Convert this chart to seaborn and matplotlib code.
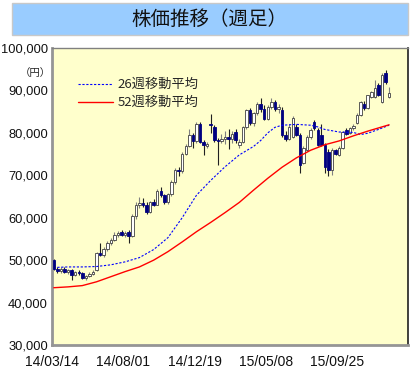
import numpy as np
import pandas as pd
import seaborn as sns
from matplotlib import pyplot as plt
from matplotlib.patches import Rectangle
from matplotlib.ticker import StrMethodFormatter

sns.set_style('white')
plt.rcParams['font.family'] = ['Noto Sans CJK JP', 'DejaVu Sans']

# weekly candles (yen)
opens = [50000, 47900, 47400, 48000, 47200, 47700, 46600, 47100, 46900, 45700,
         46200, 46800, 47600, 51800, 51200, 52600, 54000, 54800, 56000, 56600,
         56000, 56600, 55600, 60300, 62900, 63500, 63000, 61400, 63600, 63100,
         66300, 65300, 63700, 65500, 68400, 71300, 70900, 75100, 77000, 79400,
         78000, 82200, 77900, 76900, 82200, 81400, 78200, 78000, 78600, 79100,
         78600, 80200, 77200, 77900, 81300, 85300, 82400, 84600, 86900, 85600,
         83300, 86100, 87300, 85700, 85400, 79500, 78500, 79000, 81400, 79500,
         73000, 76000, 79000, 82500, 80700, 79500, 77100, 75600, 71200, 76000,
         74800, 76400, 80700, 80000, 81100, 82300, 84200, 86900, 85900, 88500,
         88500, 91300, 87300, 94100, 88500]
highs = [50300, 48500, 48300, 48400, 48000, 47900, 47500, 47600, 47100, 46400,
         47100, 47600, 52000, 54000, 53200, 54500, 55200, 56600, 56800, 57000,
         56800, 57000, 60800, 63600, 65000, 64600, 63700, 63900, 64300, 66700,
         67300, 65600, 65800, 68800, 71800, 71900, 75500, 77400, 80800, 79900,
         82600, 82500, 78400, 77800, 84500, 81800, 78900, 79800, 80500, 80800,
         80500, 80900, 78600, 81700, 85700, 85900, 85000, 87300, 88100, 86500,
         86600, 88200, 87800, 86700, 86000, 80500, 82000, 84000, 82200, 80000,
         77000, 79500, 81200, 83000, 81200, 82000, 77600, 76200, 76400, 76300,
         76800, 80500, 81200, 81400, 82000, 84600, 87600, 87400, 89000, 89900,
         92400, 91700, 94100, 94700, 90800]
lows = [47600, 47000, 46900, 46900, 46800, 45300, 46200, 46400, 45500, 45400,
        46000, 46500, 47400, 51000, 50700, 52200, 53500, 54500, 55400, 55800,
        55500, 54000, 55400, 59700, 62400, 62600, 60900, 61200, 62800, 62900,
        64900, 63300, 63300, 65200, 68000, 69800, 70600, 74700, 76600, 76500,
        77700, 77600, 74800, 76500, 80000, 77800, 72400, 77600, 77400, 76300,
        77600, 77600, 76400, 77500, 81000, 81900, 81600, 84200, 85000, 83000,
        83000, 85700, 85200, 84600, 79000, 78000, 78200, 78700, 79200, 70500,
        72600, 75700, 78600, 80700, 76800, 76800, 70500, 69800, 70000, 74700,
        74500, 76100, 79500, 79800, 80600, 82000, 84000, 85500, 85600, 88200,
        88200, 88600, 87000, 91500, 88300]
closes = [47900, 47400, 48000, 47200, 47700, 46600, 47100, 46900, 45700, 46200,
          46800, 47300, 51700, 51200, 52600, 54000, 54800, 56000, 56400, 56000,
          56500, 55800, 60300, 62900, 63500, 63000, 61400, 63600, 63100, 66300,
          65300, 63700, 65500, 68400, 71300, 70900, 75100, 77000, 79400, 78000,
          82200, 77900, 77200, 77300, 81900, 78200, 78000, 78600, 79100, 78600,
          79800, 78200, 77900, 81300, 85300, 82400, 84600, 86900, 85600, 83300,
          86100, 87300, 85700, 86200, 79500, 78600, 81400, 83500, 79500, 72400,
          76500, 79000, 80700, 81100, 77100, 77200, 72000, 71200, 76000, 75100,
          76400, 80200, 79700, 81100, 81700, 84200, 87300, 85900, 88900, 89600,
          90600, 88900, 93600, 92000, 89400]

# moving averages
ma52_weeks = [0, 4, 8, 12, 16, 20, 24, 28, 32, 36, 40, 44, 48, 52, 56, 60,
              64, 68, 72, 76, 80, 84, 88, 92, 94]
ma52 = [43500, 43700, 44000, 44900, 46100, 47300, 48400, 50000, 52000, 54300,
        56700, 58900, 61200, 63600, 66500, 69300, 71900, 74100, 75900, 77200,
        78100, 79300, 80400, 81400, 81900]
ma26_weeks = [1, 4, 8, 12, 16, 20, 24, 28, 32, 36, 40, 44, 48, 52, 56, 58,
              60, 62, 64, 68, 72, 74, 76, 80, 84, 86, 88, 91, 94]
ma26 = [48300, 48400, 48400, 48500, 48900, 49600, 50600, 52500, 55300, 60000,
        65300, 68800, 72000, 74800, 76800, 78200, 80000, 81300, 81800, 82000,
        81800, 81400, 80800, 80200, 80100, 79600, 79900, 80800, 81800]

tick_labels = ['14/03/14', '14/08/01', '14/12/19', '15/05/08', '15/09/25']

o = np.array(opens)
h = np.array(highs)
l = np.array(lows)
c = np.array(closes)
weeks = np.arange(len(c))
up = c >= o

fig = plt.figure(figsize=(4.2, 3.7), dpi=100)

# title box
fig.patches.append(Rectangle((12/420, 1-35/370), 396/420, 32/370, transform=fig.transFigure,
                             facecolor='#99CCFF', edgecolor='#C8C8C8', lw=1))
fig.text(209/420, 1-19/370, '株価推移（週足）', ha='center', va='center', fontsize=14, color='#111111')

ax = fig.add_axes([52/420, 25/370, 356/420, 297/370])
ax.set_facecolor('#FFFFCC')

ax.vlines(weeks[up], l[up], h[up], color='#808080', lw=0.8, zorder=2)
ax.vlines(weeks[~up], l[~up], h[~up], color='#202020', lw=0.8, zorder=2)
ax.bar(weeks[up], c[up]-o[up], bottom=o[up], width=0.7, color='white',
       edgecolor='#404040', lw=0.6, zorder=3)
ax.bar(weeks[~up], o[~up]-c[~up], bottom=c[~up], width=0.7, color='#000080',
       edgecolor='#000080', lw=0.6, zorder=3)

df26 = pd.DataFrame({'week': ma26_weeks, 'price': ma26})
df52 = pd.DataFrame({'week': ma52_weeks, 'price': ma52})
sns.lineplot(data=df26, x='week', y='price', ax=ax, color='blue', lw=0.8,
             linestyle=(0, (2, 1.5)), zorder=4)
sns.lineplot(data=df52, x='week', y='price', ax=ax, color='red', lw=1, zorder=4)

# legend
ax.plot([0.073, 0.171], [0.879, 0.879], transform=ax.transAxes, color='blue', lw=0.8,
        linestyle=(0, (2, 1.5)))
ax.plot([0.073, 0.171], [0.818, 0.818], transform=ax.transAxes, color='red', lw=1)
ax.text(0.185, 0.879, '26週移動平均', transform=ax.transAxes, va='center', fontsize=9.5)
ax.text(0.185, 0.818, '52週移動平均', transform=ax.transAxes, va='center', fontsize=9.5)

fig.text(35/420, 1-73/370, '（円）', ha='center', va='center', fontsize=7.5)

ax.set_xlim(-0.5, 99.3)
ax.set_ylim(30000, 100000)
ax.set_yticks(np.arange(30000, 100001, 10000))
ax.yaxis.set_major_formatter(StrMethodFormatter('{x:,.0f}'))
ax.set_xticks(np.array([0, 20, 40, 60, 80]) - 0.5)
ax.set_xticklabels(tick_labels)
ax.set_xlabel('')
ax.set_ylabel('')
ax.tick_params(axis='y', length=0, pad=3, labelsize=9.3, labelcolor='#111111')
ax.tick_params(axis='x', direction='in', length=4, color='#A0A0A0', width=1,
               pad=7, labelsize=10, labelcolor='#111111')
for t in ax.get_xticklabels() + ax.get_yticklabels():
    t.set_fontfamily(['Liberation Sans', 'DejaVu Sans'])

for s in ['left', 'bottom']:
    ax.spines[s].set_color('#959595')
    ax.spines[s].set_linewidth(2)
ax.spines['top'].set_color('#808080')
ax.spines['top'].set_linewidth(1)
ax.spines['right'].set_color('#202020')
ax.spines['right'].set_linewidth(1.2)

fig.savefig('out.png', dpi=100)
